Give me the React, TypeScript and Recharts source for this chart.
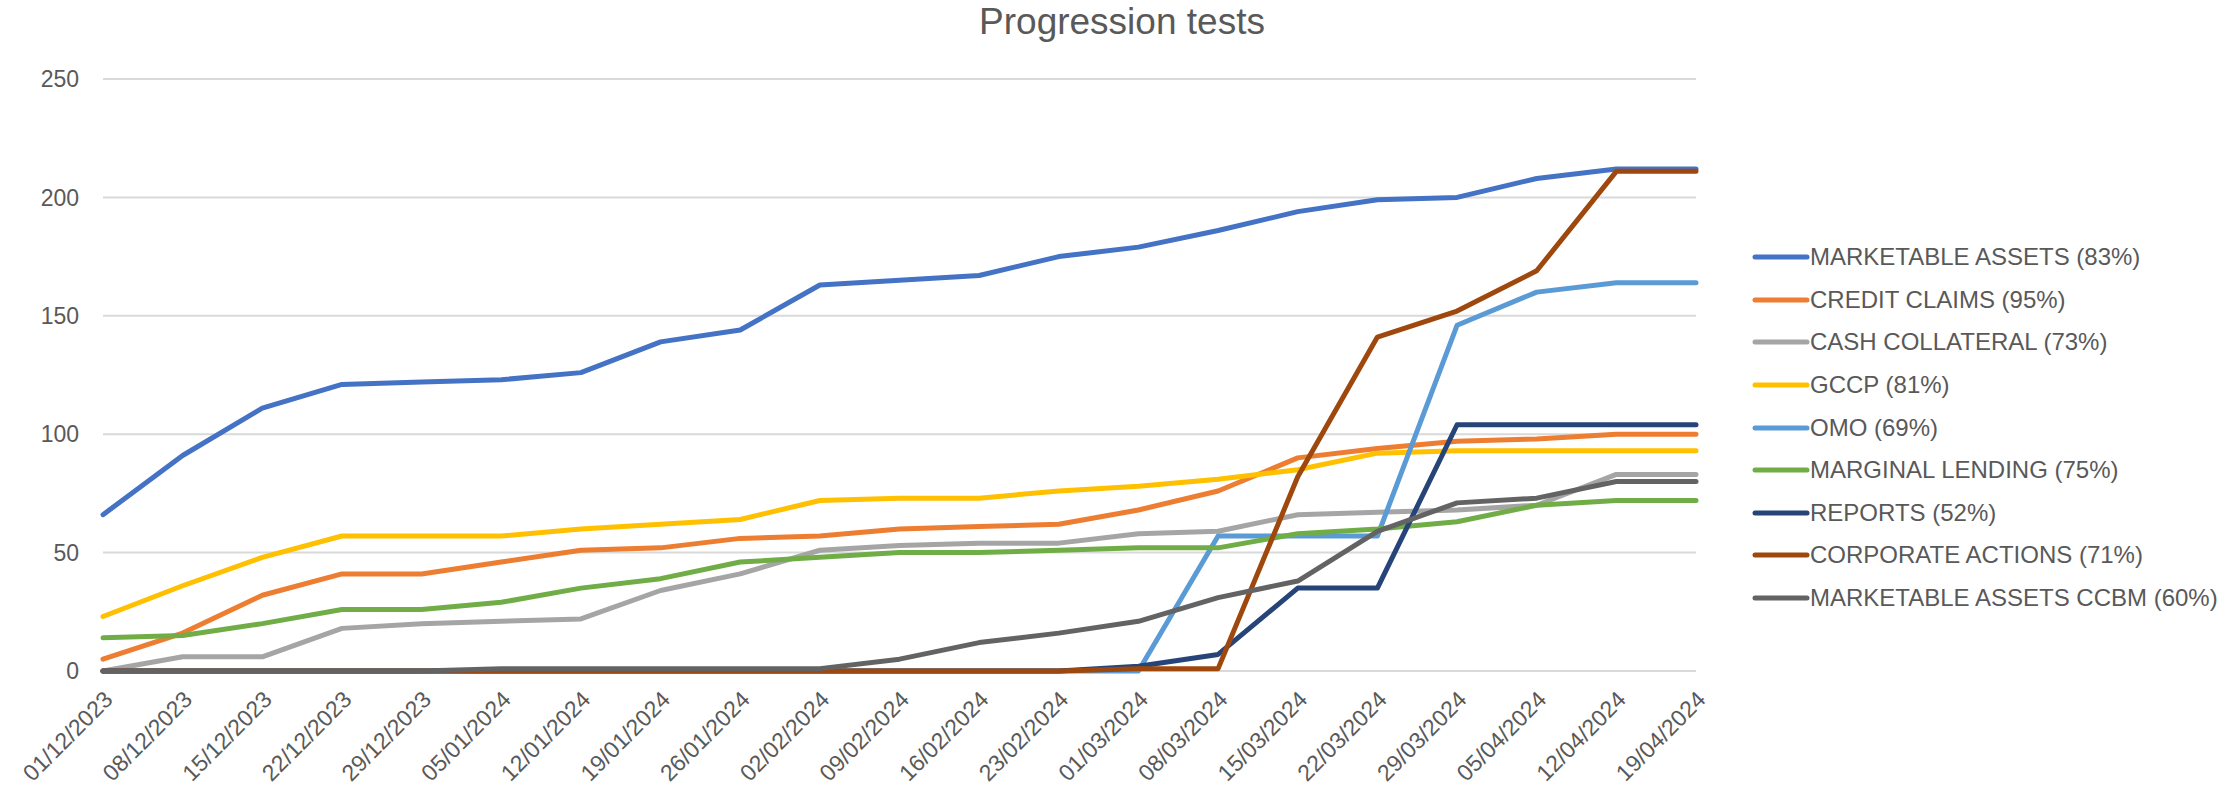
import { LineChart, Line, XAxis, YAxis, CartesianGrid } from "recharts"

const dates = [
  "01/12/2023", "08/12/2023", "15/12/2023", "22/12/2023", "29/12/2023",
  "05/01/2024", "12/01/2024", "19/01/2024", "26/01/2024", "02/02/2024",
  "09/02/2024", "16/02/2024", "23/02/2024", "01/03/2024", "08/03/2024",
  "15/03/2024", "22/03/2024", "29/03/2024", "05/04/2024", "12/04/2024",
  "19/04/2024",
]

const marketableAssets = [66, 91, 111, 121, 122, 123, 126, 139, 144, 163, 165, 167, 175, 179, 186, 194, 199, 200, 208, 212, 212]
const creditClaims = [5, 16, 32, 41, 41, 46, 51, 52, 56, 57, 60, 61, 62, 68, 76, 90, 94, 97, 98, 100, 100]
const cashCollateral = [0, 6, 6, 18, 20, 21, 22, 34, 41, 51, 53, 54, 54, 58, 59, 66, 67, 68, 70, 83, 83]
const gccp = [23, 36, 48, 57, 57, 57, 60, 62, 64, 72, 73, 73, 76, 78, 81, 85, 92, 93, 93, 93, 93]
const omo = [0, 0, 0, 0, 0, 0, 0, 0, 0, 0, 0, 0, 0, 0, 57, 57, 57, 146, 160, 164, 164]
const marginalLending = [14, 15, 20, 26, 26, 29, 35, 39, 46, 48, 50, 50, 51, 52, 52, 58, 60, 63, 70, 72, 72]
const reports = [0, 0, 0, 0, 0, 0, 0, 0, 0, 0, 0, 0, 0, 2, 7, 35, 35, 104, 104, 104, 104]
const corporateActions = [0, 0, 0, 0, 0, 0, 0, 0, 0, 0, 0, 0, 0, 1, 1, 82, 141, 152, 169, 211, 211]
const marketableAssetsCcbm = [0, 0, 0, 0, 0, 1, 1, 1, 1, 1, 5, 12, 16, 21, 31, 38, 59, 71, 73, 80, 80]

const yTicks = [0, 50, 100, 150, 200, 250]

const series = [
  { key: "ma", name: "MARKETABLE ASSETS (83%)", color: "#4472C4", values: marketableAssets },
  { key: "cc", name: "CREDIT CLAIMS (95%)", color: "#ED7D31", values: creditClaims },
  { key: "cash", name: "CASH COLLATERAL (73%)", color: "#A5A5A5", values: cashCollateral },
  { key: "gccp", name: "GCCP (81%)", color: "#FFC000", values: gccp },
  { key: "omo", name: "OMO (69%)", color: "#5B9BD5", values: omo },
  { key: "ml", name: "MARGINAL LENDING (75%)", color: "#70AD47", values: marginalLending },
  { key: "rep", name: "REPORTS (52%)", color: "#264478", values: reports },
  { key: "ca", name: "CORPORATE ACTIONS (71%)", color: "#9E480E", values: corporateActions },
  { key: "ccbm", name: "MARKETABLE ASSETS CCBM (60%)", color: "#636363", values: marketableAssetsCcbm },
]

const data = dates.map((date, i) => {
  const row: Record<string, string | number> = { date }
  series.forEach((s) => (row[s.key] = s.values[i]))
  return row
})

const FONT = '"Liberation Sans", Arial, sans-serif'
const TEXT = "#595959"

function DateTick({ x, y, payload }: any) {
  return (
    <g transform={`translate(${x + 11},${y + 30})`}>
      <text transform="rotate(-45)" textAnchor="end" fill={TEXT} fontSize={23} fontFamily={FONT}>
        {payload.value}
      </text>
    </g>
  )
}

export default function App() {
  return (
    <div style={{ position: "absolute", left: 0, top: 0, width: 2240, height: 788, background: "#fff", fontFamily: FONT }}>
      <div style={{ position: "absolute", left: 0, width: 2244, top: 3, textAlign: "center", fontSize: 37, lineHeight: "37px", color: TEXT }}>
        Progression tests
      </div>
      <LineChart width={2240} height={788} data={data} margin={{ top: 79, right: 544, bottom: 0, left: 0 }}>
        <CartesianGrid vertical={false} stroke="#D9D9D9" strokeWidth={2} />
        <XAxis dataKey="date" interval={0} height={117} axisLine={false} tickLine={false} tickSize={0} tickMargin={0} tick={<DateTick />} />
        <YAxis domain={[0, 250]} ticks={yTicks} width={103} axisLine={false} tickLine={false} tickSize={0} tickMargin={24}
          tick={{ fill: TEXT, fontSize: 23, fontFamily: FONT }} />
        {series.map((s) => (
          <Line key={s.key} type="linear" dataKey={s.key} name={s.name} stroke={s.color} strokeWidth={5}
            strokeLinecap="round" strokeLinejoin="round" dot={false} activeDot={false} isAnimationActive={false} />
        ))}
      </LineChart>
      <div style={{ position: "absolute", left: 1752, top: 236 }}>
        {series.map((s) => (
          <div key={s.key} style={{ display: "flex", alignItems: "center", height: 42.6 }}>
            <svg width={58} height={10}>
              <line x1={3} y1={5} x2={55} y2={5} stroke={s.color} strokeWidth={5} strokeLinecap="round" />
            </svg>
            <span style={{ fontSize: 24, color: TEXT, whiteSpace: "nowrap" }}>{s.name}</span>
          </div>
        ))}
      </div>
    </div>
  )
}
